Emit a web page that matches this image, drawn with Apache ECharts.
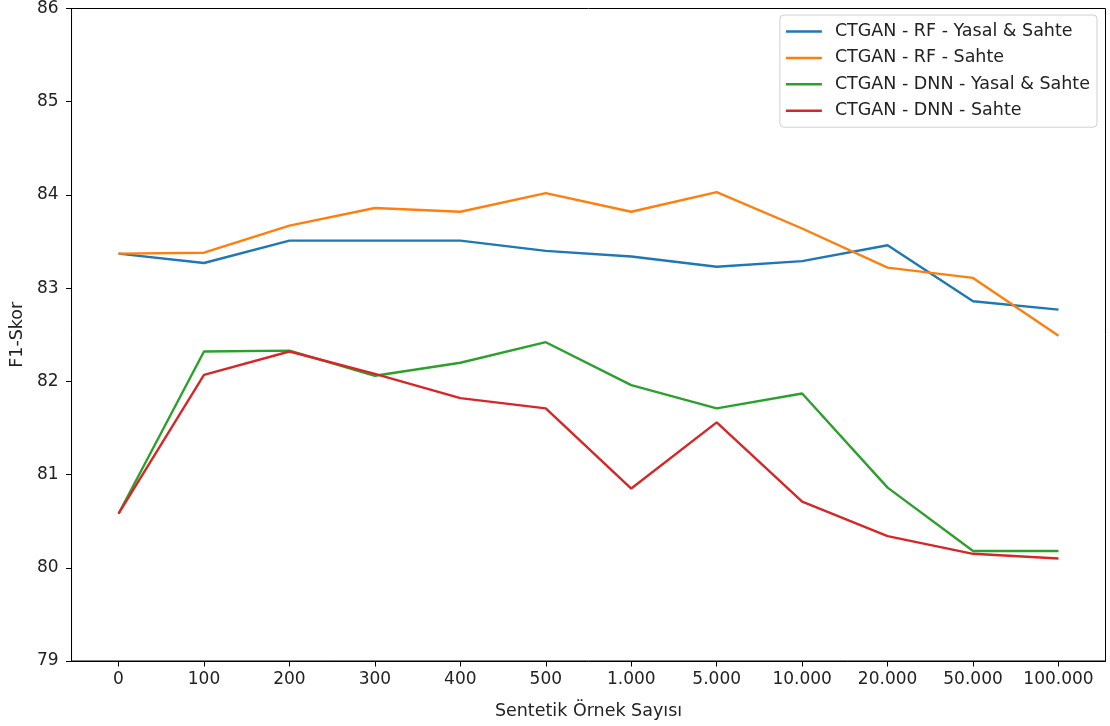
<!DOCTYPE html>
<html>
<head>
<meta charset="utf-8">
<script src="https://cdn.jsdelivr.net/npm/echarts@6/dist/echarts.min.js"></script>
<style>html,body{margin:0;padding:0;background:#fff}#c{width:1110px;height:726px}</style>
</head>
<body>
<div id="c"></div>
<script>
const categories = ['0','100','200','300','400','500','1.000','5.000','10.000','20.000','50.000','100.000'];
const rfYasalSahte  = [83.37, 83.27, 83.51, 83.51, 83.51, 83.40, 83.34, 83.23, 83.29, 83.46, 82.86, 82.77];
const rfSahte       = [83.37, 83.38, 83.67, 83.86, 83.82, 84.02, 83.82, 84.03, 83.64, 83.22, 83.11, 82.49];
const dnnYasalSahte = [80.58, 82.32, 82.33, 82.06, 82.20, 82.42, 81.96, 81.71, 81.87, 80.86, 80.18, 80.18];
const dnnSahte      = [80.58, 82.07, 82.32, 82.08, 81.82, 81.71, 80.85, 81.56, 80.71, 80.34, 80.15, 80.10];
const yTicks = [79, 80, 81, 82, 83, 84, 85, 86];
const seriesNames = ['CTGAN - RF - Yasal & Sahte','CTGAN - RF - Sahte','CTGAN - DNN - Yasal & Sahte','CTGAN - DNN - Sahte'];
const colors = ['#1f77b4','#ff7f0e','#2ca02c','#d62728'];

const allData = [rfYasalSahte, rfSahte, dnnYasalSahte, dnnSahte];
const idx = categories.map((_, i) => i);
const font = 'DejaVu Sans';
const fsTick = 17;
const fsText = 17.5;

const chart = echarts.init(document.getElementById('c'), null, {renderer: 'canvas'});
chart.setOption({
  animation: false,
  backgroundColor: '#fff',
  textStyle: {fontFamily: font},
  grid: {left: 69.5, right: 4.5, top: 7.5, bottom: 65, show: true, borderColor: '#000', borderWidth: 1, backgroundColor: 'transparent'},
  legend: {
    right: 13, top: 15, orient: 'vertical',
    data: seriesNames.map(n => ({name: n, icon: 'path://M0 0 H36 V2.5 H0 Z'})),
    itemWidth: 36, itemHeight: 2.5, itemGap: 7.4,
    padding: [7, 7, 7, 6],
    borderColor: '#d0d0d0', borderWidth: 1, borderRadius: 4,
    backgroundColor: 'rgba(255,255,255,0.8)',
    textStyle: {fontFamily: font, fontSize: fsText, color: '#222', lineHeight: 19, padding: [0, 0, 0, 8]}
  },
  xAxis: {
    type: 'value', min: -0.55, max: 11.55,
    name: 'Sentetik Örnek Sayısı', nameLocation: 'middle', nameGap: 41,
    nameTextStyle: {fontFamily: font, fontSize: fsText, color: '#222'},
    splitLine: {show: false},
    axisLine: {show: true, onZero: false, lineStyle: {color: '#000', width: 1}},
    axisTick: {show: true, length: 5.5, inside: false, lineStyle: {color: '#000'}, customValues: idx},
    axisLabel: {customValues: idx, margin: 10, fontFamily: font, fontSize: fsTick, color: '#222',
      formatter: v => categories[Math.round(v)] || ''}
  },
  yAxis: {
    type: 'value', min: 79, max: 86, interval: 1,
    name: 'F1-Skor', nameLocation: 'middle', nameGap: 44,
    nameTextStyle: {fontFamily: font, fontSize: fsText, color: '#222'},
    splitLine: {show: false},
    axisLine: {show: true, onZero: false, lineStyle: {color: '#000', width: 1}},
    axisTick: {show: true, length: 5.5, inside: false, lineStyle: {color: '#000'}},
    axisLabel: {margin: 13, fontFamily: font, fontSize: fsTick, color: '#222',
      formatter: v => yTicks.includes(v) ? String(v) : ''}
  },
  series: allData.map((arr, s) => ({
    name: seriesNames[s], type: 'line', symbol: 'none', showSymbol: false,
    data: arr.map((v, i) => [i, v]),
    lineStyle: {color: colors[s], width: 2.4},
    itemStyle: {color: colors[s]},
    emphasis: {disabled: true}
  })),
  color: colors
});
</script>
</body>
</html>
